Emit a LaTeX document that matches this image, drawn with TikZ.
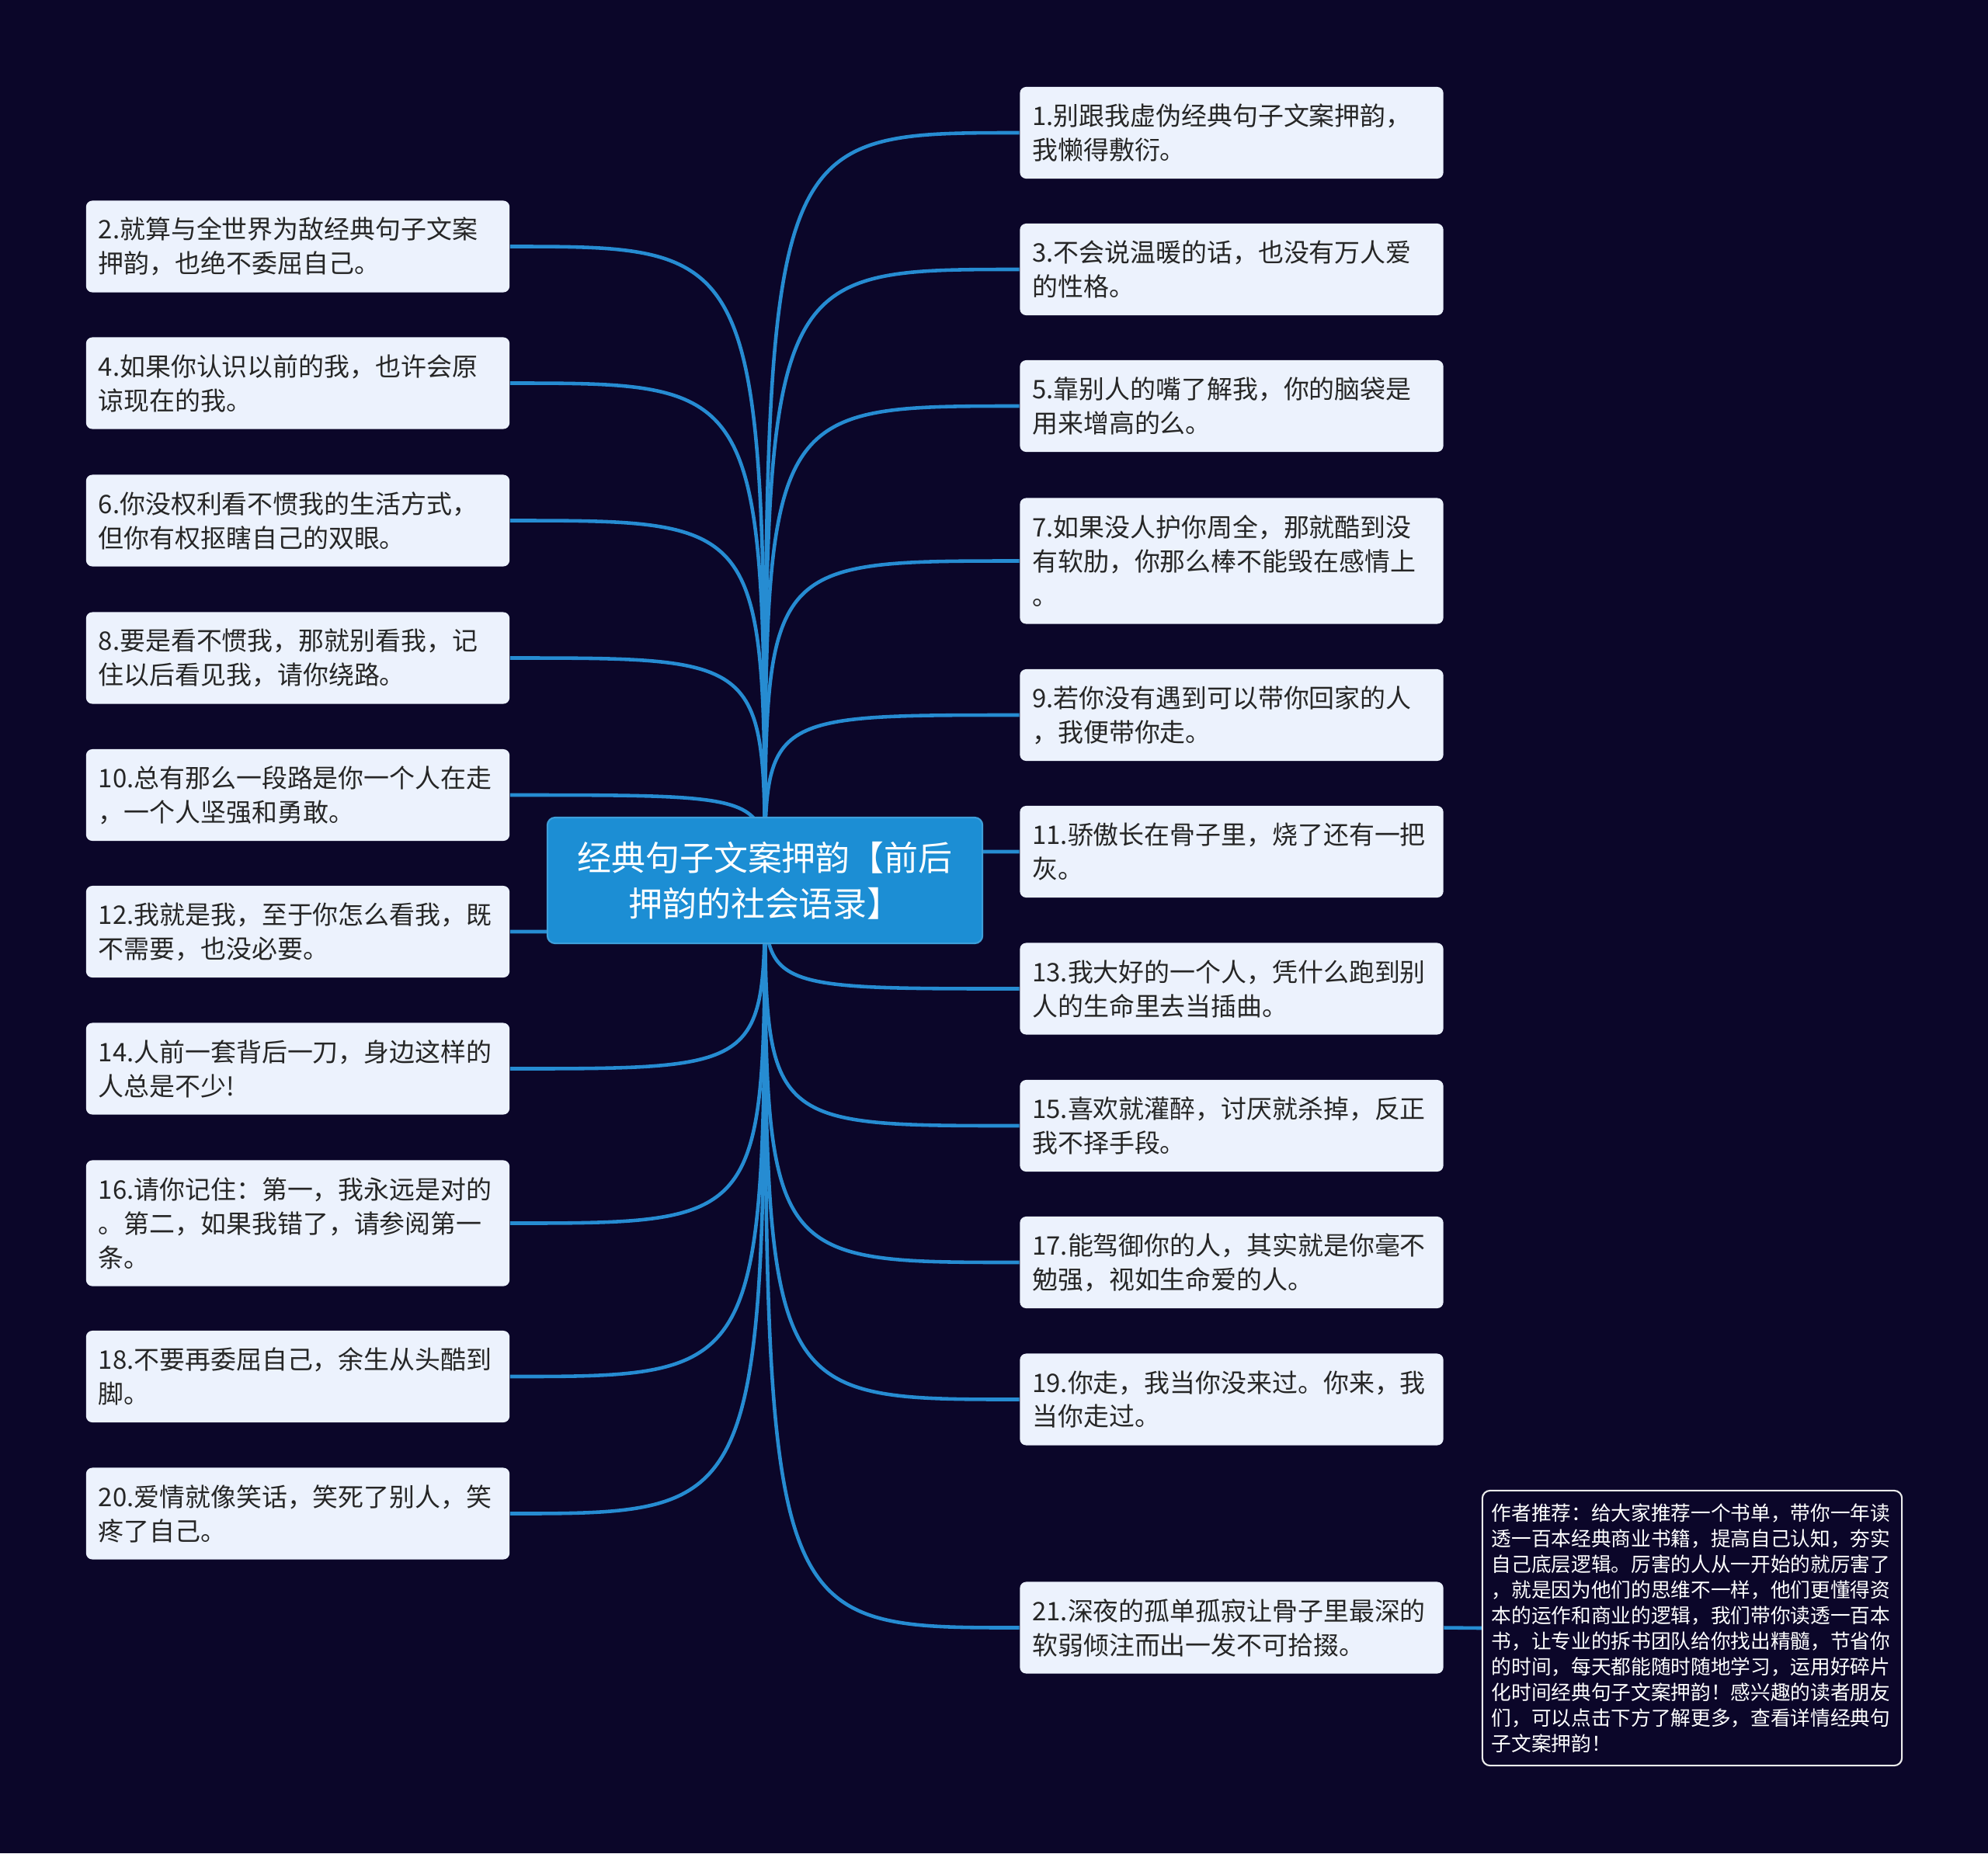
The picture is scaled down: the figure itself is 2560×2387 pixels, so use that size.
\documentclass[tikz,border=0pt]{standalone}
\usepackage{fontspec}
\setmainfont{Noto Sans CJK SC}
\definecolor{bgcol}{RGB}{11,6,41}
\definecolor{linecol}{RGB}{38,140,210}
\definecolor{rootcol}{RGB}{28,142,212}
\definecolor{leaffill}{RGB}{236,242,253}
\definecolor{leaftext}{RGB}{38,38,38}
\pgfdeclarelayer{back}
\pgfdeclarelayer{edges}
\pgfsetlayers{back,edges,main}
\begin{document}
\begin{tikzpicture}[x=0.01cm,y=-0.01cm,
  leaf/.style={fill=leaffill, rounded corners=0.08cm, text=leaftext,
    minimum width=5.45cm, minimum height=1.18cm, text width=5.13cm,
    align=left, inner sep=0pt, font=\fontsize{9.36pt}{12.5pt}\selectfont},
  leafthree/.style={leaf, minimum height=1.62cm},
  rootbox/.style={fill=rootcol, draw=rootcol!85!white, line width=0.6pt,
    rounded corners=0.1cm, text=white, minimum width=5.6cm, minimum height=1.62cm,
    align=center, inner sep=0pt, font=\fontsize{12.5pt}{16.7pt}\selectfont},
  notebox/.style={fill=bgcol, draw=white!92!black, line width=0.6pt,
    rounded corners=0.1cm, text=white, minimum width=5.4cm, minimum height=3.54cm,
    text width=5.16cm, align=left, inner sep=0pt,
    font=\fontsize{7.3pt}{9.4pt}\selectfont},
  edge/.style={draw=linecol, line width=1.3pt}]

\begin{pgfonlayer}{back}
\fill[bgcol] (0,0) rectangle (2560,2387);
\end{pgfonlayer}
\useasboundingbox (0,0) rectangle (2560,2387);

\node[rootbox] (root) at (985,1134) {经典句子文案押韵【前后\\押韵的社会语录】};

% right side
\node[leaf] (r1) at (1586,171) {1.别跟我虚伪经典句子文案押韵，\\我懒得敷衍。};
\node[leaf] (r3) at (1586,347) {3.不会说温暖的话，也没有万人爱\\的性格。};
\node[leaf] (r5) at (1586,523) {5.靠别人的嘴了解我，你的脑袋是\\用来增高的么。};
\node[leafthree] (r7) at (1586,722.5) {7.如果没人护你周全，那就酷到没\\有软肋，你那么棒不能毁在感情上\\。};
\node[leaf] (r9) at (1586,921) {9.若你没有遇到可以带你回家的人\\，我便带你走。};
\node[leaf] (r11) at (1586,1097) {11.骄傲长在骨子里，烧了还有一把\\灰。};
\node[leaf] (r13) at (1586,1273.5) {13.我大好的一个人，凭什么跑到别\\人的生命里去当插曲。};
\node[leaf] (r15) at (1586,1450) {15.喜欢就灌醉，讨厌就杀掉，反正\\我不择手段。};
\node[leaf] (r17) at (1586,1626) {17.能驾御你的人，其实就是你毫不\\勉强，视如生命爱的人。};
\node[leaf] (r19) at (1586,1802.5) {19.你走，我当你没来过。你来，我\\当你走过。};
\node[leaf] (r21) at (1586,2096.5) {21.深夜的孤单孤寂让骨子里最深的\\软弱倾注而出一发不可拾掇。};

% left side
\node[leaf] (l2) at (383.5,317.5) {2.就算与全世界为敌经典句子文案\\押韵，也绝不委屈自己。};
\node[leaf] (l4) at (383.5,493.5) {4.如果你认识以前的我，也许会原\\谅现在的我。};
\node[leaf] (l6) at (383.5,670.5) {6.你没权利看不惯我的生活方式，\\但你有权抠瞎自己的双眼。};
\node[leaf] (l8) at (383.5,847.5) {8.要是看不惯我，那就别看我，记\\住以后看见我，请你绕路。};
\node[leaf] (l10) at (383.5,1024) {10.总有那么一段路是你一个人在走\\，一个人坚强和勇敢。};
\node[leaf] (l12) at (383.5,1200) {12.我就是我，至于你怎么看我，既\\不需要，也没必要。};
\node[leaf] (l14) at (383.5,1376.5) {14.人前一套背后一刀，身边这样的\\人总是不少!};
\node[leafthree] (l16) at (383.5,1575.5) {16.请你记住：第一，我永远是对的\\。第二，如果我错了，请参阅第一\\条。};
\node[leaf] (l18) at (383.5,1773) {18.不要再委屈自己，余生从头酷到\\脚。};
\node[leaf] (l20) at (383.5,1949.5) {20.爱情就像笑话，笑死了别人，笑\\疼了自己。};

\node[notebox] (note) at (2179,2097) {作者推荐：给大家推荐一个书单，带你一年读\\透一百本经典商业书籍，提高自己认知，夯实\\自己底层逻辑。厉害的人从一开始的就厉害了\\，就是因为他们的思维不一样，他们更懂得资\\本的运作和商业的逻辑，我们带你读透一百本\\书，让专业的拆书团队给你找出精髓，节省你\\的时间，每天都能随时随地学习，运用好碎片\\化时间经典句子文案押韵！感兴趣的读者朋友\\们，可以点击下方了解更多，查看详情经典句\\子文案押韵！};

\begin{pgfonlayer}{edges}
\foreach \n in {r1,r3,r5,r7,r9,r11,r13,r15,r17,r19,r21}{
  \draw[edge] (root.center) .. controls (root.center |- \n.west) .. (\n.west);
}
\foreach \n in {l2,l4,l6,l8,l10,l12,l14,l16,l18,l20}{
  \draw[edge] (root.center) .. controls (root.center |- \n.east) .. (\n.east);
}
\draw[edge] (r21.east) -- (note.west);
\end{pgfonlayer}
\end{tikzpicture}
\end{document}
